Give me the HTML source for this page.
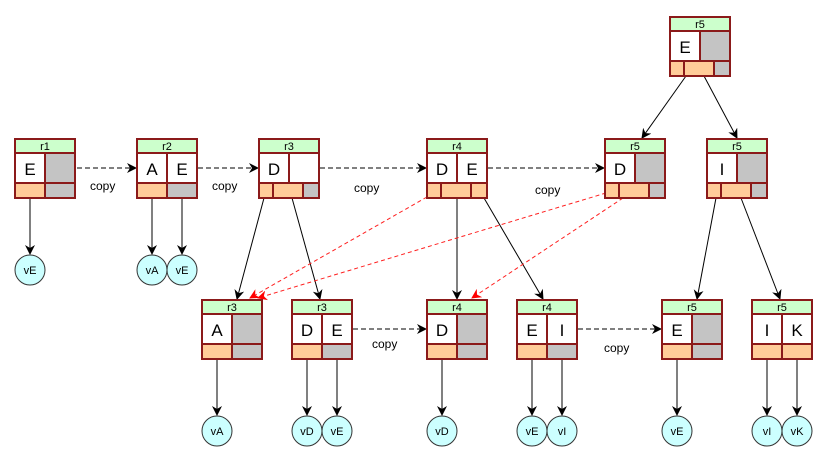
<!DOCTYPE html>
<html><head><meta charset="utf-8"><style>
html,body{margin:0;padding:0;background:#fff;}
svg{display:block;font-family:"Liberation Sans",sans-serif;}
.b{stroke:#8b1a1a;stroke-width:2;}
.h{fill:#ccffcc;}
.w{fill:#fff;}
.g{fill:#c4c4c4;}
.o{fill:#ffcc99;}
.t{font-size:11px;text-anchor:middle;fill:#000;}
.k{font-size:17px;text-anchor:middle;fill:#000;}
.c{fill:#ccffff;stroke:#333;stroke-width:1;}
.ct{font-size:11px;text-anchor:middle;fill:#000;}
.e{stroke:#000;stroke-width:1;fill:none;marker-end:url(#ab);}
.d{stroke:#000;stroke-width:1;fill:none;stroke-dasharray:5,3;marker-end:url(#ab);}
.r{stroke:#ff2020;stroke-width:1;fill:none;stroke-dasharray:4,3;marker-end:url(#ar);}
.cp{font-size:12px;fill:#000;}
</style></head><body>
<svg width="828" height="460" viewBox="0 0 828 460">
<defs>
<marker id="ab" markerWidth="10" markerHeight="10" refX="9" refY="5" orient="auto" markerUnits="userSpaceOnUse"><path d="M0,0 L10,5 L0,10 L3,5 z" fill="#000"/></marker>
<marker id="ar" markerWidth="10" markerHeight="10" refX="9" refY="5" orient="auto" markerUnits="userSpaceOnUse"><path d="M0,0 L10,5 L0,10 L3,5 z" fill="#f00"/></marker>
</defs>

<!-- edges -->
<line class="e" x1="30" y1="198" x2="30" y2="254"/>
<line class="e" x1="152" y1="198" x2="152" y2="254"/>
<line class="e" x1="182" y1="198" x2="182" y2="254"/>
<line class="e" x1="264" y1="198" x2="237" y2="299"/>
<line class="e" x1="292" y1="198" x2="320" y2="299"/>
<line class="e" x1="457" y1="198" x2="457" y2="299"/>
<line class="e" x1="484" y1="198" x2="543" y2="299"/>
<line class="e" x1="686" y1="76" x2="642" y2="138"/>
<line class="e" x1="704" y1="76" x2="737" y2="138"/>
<line class="e" x1="716" y1="198" x2="697" y2="299"/>
<line class="e" x1="741" y1="198" x2="780" y2="299"/>
<line class="e" x1="217" y1="359" x2="217" y2="415"/>
<line class="e" x1="307" y1="359" x2="307" y2="415"/>
<line class="e" x1="337" y1="359" x2="337" y2="415"/>
<line class="e" x1="442" y1="359" x2="442" y2="415"/>
<line class="e" x1="532" y1="359" x2="532" y2="415"/>
<line class="e" x1="562" y1="359" x2="562" y2="415"/>
<line class="e" x1="677" y1="359" x2="677" y2="415"/>
<line class="e" x1="767" y1="359" x2="767" y2="415"/>
<line class="e" x1="797" y1="359" x2="797" y2="415"/>

<line class="d" x1="77" y1="168" x2="136" y2="168"/>
<line class="d" x1="198" y1="168" x2="258" y2="168"/>
<line class="d" x1="320" y1="168" x2="426" y2="168"/>
<line class="d" x1="488" y1="168" x2="604" y2="168"/>
<line class="d" x1="353" y1="329" x2="426" y2="329"/>
<line class="d" x1="578" y1="329" x2="661" y2="329"/>
<text class="cp" x="90" y="190">copy</text>
<text class="cp" x="212" y="190">copy</text>
<text class="cp" x="354" y="192">copy</text>
<text class="cp" x="535" y="194">copy</text>
<text class="cp" x="372" y="348">copy</text>
<text class="cp" x="604" y="352">copy</text>

<line class="r" x1="427" y1="197" x2="250" y2="298"/>
<line class="r" x1="606" y1="193" x2="258" y2="298"/>
<line class="r" x1="623" y1="198" x2="472" y2="298"/>

<!-- nodes -->
<g class="b">
<!-- r1 -->
<g transform="translate(15,139)"><rect class="h" width="60" height="14"/><rect class="w" y="14" width="30" height="30"/><rect class="g" x="30" y="14" width="30" height="30"/><rect class="o" y="44" width="30" height="15"/><rect class="g" x="30" y="44" width="30" height="15"/></g>
<!-- r2 -->
<g transform="translate(137,139)"><rect class="h" width="60" height="14"/><rect class="w" y="14" width="30" height="30"/><rect class="w" x="30" y="14" width="30" height="30"/><rect class="o" y="44" width="30" height="15"/><rect class="g" x="30" y="44" width="30" height="15"/></g>
<!-- r3 -->
<g transform="translate(259,139)"><rect class="h" width="60" height="14"/><rect class="w" y="14" width="30" height="30"/><rect class="w" x="30" y="14" width="30" height="30"/><rect class="o" y="44" width="14" height="15"/><rect class="o" x="14" y="44" width="30" height="15"/><rect class="g" x="44" y="44" width="16" height="15"/></g>
<!-- r4 -->
<g transform="translate(427,139)"><rect class="h" width="60" height="14"/><rect class="w" y="14" width="30" height="30"/><rect class="w" x="30" y="14" width="30" height="30"/><rect class="o" y="44" width="14" height="15"/><rect class="o" x="14" y="44" width="30" height="15"/><rect class="o" x="44" y="44" width="16" height="15"/></g>
<!-- r5 D -->
<g transform="translate(605,139)"><rect class="h" width="60" height="14"/><rect class="w" y="14" width="30" height="30"/><rect class="g" x="30" y="14" width="30" height="30"/><rect class="o" y="44" width="14" height="15"/><rect class="o" x="14" y="44" width="30" height="15"/><rect class="g" x="44" y="44" width="16" height="15"/></g>
<!-- r5 I -->
<g transform="translate(707,139)"><rect class="h" width="60" height="14"/><rect class="w" y="14" width="30" height="30"/><rect class="g" x="30" y="14" width="30" height="30"/><rect class="o" y="44" width="14" height="15"/><rect class="o" x="14" y="44" width="30" height="15"/><rect class="g" x="44" y="44" width="16" height="15"/></g>
<!-- top r5 -->
<g transform="translate(670,17)"><rect class="h" width="60" height="14"/><rect class="w" y="14" width="30" height="30"/><rect class="g" x="30" y="14" width="30" height="30"/><rect class="o" y="44" width="14" height="15"/><rect class="o" x="14" y="44" width="30" height="15"/><rect class="g" x="44" y="44" width="16" height="15"/></g>
<!-- row2 -->
<g transform="translate(202,300)"><rect class="h" width="60" height="14"/><rect class="w" y="14" width="30" height="30"/><rect class="g" x="30" y="14" width="30" height="30"/><rect class="o" y="44" width="30" height="15"/><rect class="g" x="30" y="44" width="30" height="15"/></g>
<g transform="translate(292,300)"><rect class="h" width="60" height="14"/><rect class="w" y="14" width="30" height="30"/><rect class="w" x="30" y="14" width="30" height="30"/><rect class="o" y="44" width="30" height="15"/><rect class="g" x="30" y="44" width="30" height="15"/></g>
<g transform="translate(427,300)"><rect class="h" width="60" height="14"/><rect class="w" y="14" width="30" height="30"/><rect class="g" x="30" y="14" width="30" height="30"/><rect class="o" y="44" width="30" height="15"/><rect class="g" x="30" y="44" width="30" height="15"/></g>
<g transform="translate(517,300)"><rect class="h" width="60" height="14"/><rect class="w" y="14" width="30" height="30"/><rect class="w" x="30" y="14" width="30" height="30"/><rect class="o" y="44" width="30" height="15"/><rect class="g" x="30" y="44" width="30" height="15"/></g>
<g transform="translate(662,300)"><rect class="h" width="60" height="14"/><rect class="w" y="14" width="30" height="30"/><rect class="g" x="30" y="14" width="30" height="30"/><rect class="o" y="44" width="30" height="15"/><rect class="g" x="30" y="44" width="30" height="15"/></g>
<g transform="translate(752,300)"><rect class="h" width="60" height="14"/><rect class="w" y="14" width="30" height="30"/><rect class="w" x="30" y="14" width="30" height="30"/><rect class="o" y="44" width="30" height="15"/><rect class="o" x="30" y="44" width="30" height="15"/></g>
</g>

<!-- node text -->
<text class="t" x="45" y="150">r1</text><text class="k" x="30" y="175">E</text>
<text class="t" x="167" y="150">r2</text><text class="k" x="152" y="175">A</text><text class="k" x="182" y="175">E</text>
<text class="t" x="289" y="150">r3</text><text class="k" x="274" y="175">D</text>
<text class="t" x="457" y="150">r4</text><text class="k" x="442" y="175">D</text><text class="k" x="472" y="175">E</text>
<text class="t" x="635" y="150">r5</text><text class="k" x="620" y="175">D</text>
<text class="t" x="737" y="150">r5</text><text class="k" x="722" y="175">I</text>
<text class="t" x="700" y="28">r5</text><text class="k" x="685" y="53">E</text>
<text class="t" x="232" y="311">r3</text><text class="k" x="217" y="336">A</text>
<text class="t" x="322" y="311">r3</text><text class="k" x="307" y="336">D</text><text class="k" x="337" y="336">E</text>
<text class="t" x="457" y="311">r4</text><text class="k" x="442" y="336">D</text>
<text class="t" x="547" y="311">r4</text><text class="k" x="532" y="336">E</text><text class="k" x="562" y="336">I</text>
<text class="t" x="692" y="311">r5</text><text class="k" x="677" y="336">E</text>
<text class="t" x="782" y="311">r5</text><text class="k" x="767" y="336">I</text><text class="k" x="797" y="336">K</text>

<!-- value circles -->
<circle class="c" cx="30" cy="270" r="15"/><text class="ct" x="30" y="274">vE</text>
<circle class="c" cx="152" cy="270" r="15"/><text class="ct" x="152" y="274">vA</text>
<circle class="c" cx="182" cy="270" r="15"/><text class="ct" x="182" y="274">vE</text>
<circle class="c" cx="217" cy="431" r="15"/><text class="ct" x="217" y="435">vA</text>
<circle class="c" cx="307" cy="431" r="15"/><text class="ct" x="307" y="435">vD</text>
<circle class="c" cx="337" cy="431" r="15"/><text class="ct" x="337" y="435">vE</text>
<circle class="c" cx="442" cy="431" r="15"/><text class="ct" x="442" y="435">vD</text>
<circle class="c" cx="532" cy="431" r="15"/><text class="ct" x="532" y="435">vE</text>
<circle class="c" cx="562" cy="431" r="15"/><text class="ct" x="562" y="435">vI</text>
<circle class="c" cx="677" cy="431" r="15"/><text class="ct" x="677" y="435">vE</text>
<circle class="c" cx="767" cy="431" r="15"/><text class="ct" x="767" y="435">vI</text>
<circle class="c" cx="797" cy="431" r="15"/><text class="ct" x="797" y="435">vK</text>
</svg>
</body></html>
